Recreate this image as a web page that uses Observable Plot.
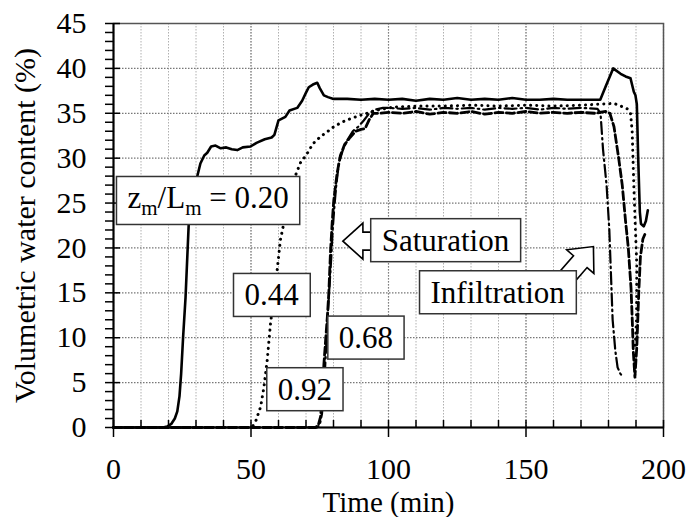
<!DOCTYPE html>
<html><head><meta charset="utf-8">
<script src="https://cdn.jsdelivr.net/npm/d3@7"></script>
<script src="https://cdn.jsdelivr.net/npm/@observablehq/plot@0.6"></script>
<style>html,body{margin:0;padding:0;background:#fff;} #chart{width:688px;height:517px;}</style>
</head><body><div id="chart"></div>
<script>
// ---- data ----
const xMajor = [0, 50, 100, 150, 200];
const yMajor = [0, 5, 10, 15, 20, 25, 30, 35, 40, 45];
const xMinor = d3.range(0, 201, 10);
const yMinor = d3.range(0, 46, 1);

// zm/Lm = 0.20 (solid)
const s020 = [[0,0],[18,0],[19.5,0.1],[21,0.4],[22.3,1],[23.2,1.8],[24,3.5],[24.6,6],[25.3,10],[26.2,14.5],[27.4,23],[28.5,26],[30.4,27.9],[31.6,29.4],[33,30.3],[34.1,30.6],[35.5,31.3],[37.1,31.4],[39,31.1],[41,31.2],[43,31.0],[45,30.9],[47,31.2],[49.8,31.3],[52,31.7],[55,32.1],[57.5,32.3],[58.5,32.6],[60,34.2],[62.5,34.6],[64,35.3],[66.8,35.6],[68.6,36.4],[70,37.3],[71,37.9],[72.5,38.2],[74.1,38.4],[75,37.8],[76.5,37],[78,36.8],[80,36.6],[85,36.6],[90,36.5],[95,36.6],[100,36.5],[105,36.6],[110,36.4],[115,36.6],[120,36.5],[125,36.7],[130,36.5],[135,36.6],[140,36.5],[145,36.7],[150,36.5],[155,36.5],[160,36.6],[165,36.5],[170,36.5],[177,36.5],[179,38],[181.7,40],[184.4,39.4],[186.2,39.1],[188,38.9],[189.2,37.4],[189.8,37],[190.3,36],[190.8,30],[191.4,24],[191.8,22.7],[192.8,22.4],[193.6,23],[194.3,24.2]];
// 0.44 (dotted)
const s044 = [[0,0],[50,0],[51,0.3],[51.6,0.6],[53.5,2.3],[54.7,4.5],[55.9,7.5],[57.1,11.6],[58.3,14.5],[59.5,17.5],[60.7,20.9],[61.9,22.7],[63.5,25],[65,27],[66.2,28.1],[68,29.5],[70.4,30.5],[72.5,31.6],[75.3,32.4],[78,33],[80.1,33.5],[83,34],[86.2,34.4],[89,34.7],[92.2,35],[95,35.3],[98.3,35.5],[102,35.7],[110,35.8],[120,35.8],[130,35.9],[140,35.8],[150,35.9],[160,35.8],[170,35.9],[176,36],[182,36.1],[184.5,35.8],[186.8,35.5],[188,35],[188.6,33],[189.2,27],[189.8,22],[190.3,18],[190.2,12],[189.6,8.5]];
// 0.68 (dashed)
const s068 = [[0,0],[73.5,0],[74.5,0.3],[75.3,1.2],[75.9,3.5],[76.5,7],[77.2,10],[77.8,12.5],[78.3,15],[78.9,19.5],[79.5,22.7],[80.1,25.3],[81.3,28.3],[82.5,30.3],[84,31.5],[86,32.3],[88,33],[90,33.2],[91.5,33.3],[93,34.3],[94.5,35],[97,35],[100,35.1],[105,35],[110,35.2],[115,34.9],[120,35.1],[125,35],[130,35.2],[135,34.9],[140,35.1],[145,35],[150,35.2],[155,35],[160,35.1],[165,35],[170,35.1],[175,35],[179,35.2],[180.5,35],[182,33.5],[183.7,30],[185,27],[186.2,23],[187.2,20],[188.2,15.5],[188.7,11.5],[189,8.6],[189.6,5.6],[190.3,9],[191,15],[191.6,19],[192.5,21],[193.2,21.5]];
// 0.92 (dash-dot)
const s092 = [[0,0],[74,0],[75,0.3],[75.8,1.5],[76.5,4],[77,7],[77.5,10],[78,13],[78.6,16],[79.2,19],[79.7,22],[80.3,24.5],[81,27],[82,29.5],[83.5,31],[85,32],[87,33],[89,33.5],[91,34.2],[93,35],[95,35.4],[98,35.6],[100,35.6],[105,35.5],[110,35.6],[115,35.4],[120,35.6],[125,35.5],[130,35.6],[135,35.4],[140,35.6],[145,35.5],[150,35.6],[155,35.4],[160,35.6],[165,35.5],[170,35.6],[176,35.5],[177.1,35],[178,31],[179.3,27],[180.3,22],[181.5,12],[182.5,8.5],[183.3,6.7],[184.3,6],[185.3,5.6]];

// annotation labels (anchor in data units)
const annoText = ["zm/Lm = 0.20", "0.44", "0.68", "0.92", "Saturation", "Infiltration"];
const annoX = [34.4, 57.5, 91.8, 69.6, 120.7, 139.7];
const annoY = [25.5, 14.7, 9.95, 4.2, 20.8, 15.0];
// block arrows (tip and tail in data units)
const arrowTipX = [83.6, 174.7];
const arrowTipY = [20.7, 20.1];
const arrowTailX = [94.5, 163.9];
const arrowTailY = [20.7, 16.3];

// ---- chart ----
const FONT = '"Liberation Serif","Times New Roman",Times,serif';
const NS = "http://www.w3.org/2000/svg";
const annos = annoText.map((t, i) => ({t, x: annoX[i], y: annoY[i]}));

function arrowsMark(index, scales) {
  const g = document.createElementNS(NS, "g");
  for (let i = 0; i < arrowTipX.length; i++) {
    const tx = scales.x(arrowTipX[i]), ty = scales.y(arrowTipY[i]);
    const sx = scales.x(arrowTailX[i]), sy = scales.y(arrowTailY[i]);
    const L = Math.hypot(tx - sx, ty - sy);
    const ux = (tx - sx) / L, uy = (ty - sy) / L, nx = -uy, ny = ux;
    const hl = 20, hw = 18, sw = 9;
    const bx = tx - hl * ux, by = ty - hl * uy;
    const pts = [
      [tx, ty], [bx + hw * nx, by + hw * ny], [bx + sw * nx, by + sw * ny],
      [sx + sw * nx, sy + sw * ny], [sx - sw * nx, sy - sw * ny],
      [bx - sw * nx, by - sw * ny], [bx - hw * nx, by - hw * ny]
    ];
    const p = document.createElementNS(NS, "polygon");
    p.setAttribute("points", pts.map(d => d.join(",")).join(" "));
    p.setAttribute("fill", "white");
    p.setAttribute("stroke", "black");
    p.setAttribute("stroke-width", "1.6");
    p.setAttribute("stroke-linejoin", "miter");
    g.appendChild(p);
  }
  return g;
}

const lineOpt = (extra) => Object.assign({x: d => d[0], y: d => d[1], stroke: "black", curve: "linear"}, extra);

const svg = Plot.plot({
  width: 688, height: 517,
  marginLeft: 113, marginRight: 25, marginTop: 23, marginBottom: 90,
  x: {domain: [0, 200]},
  y: {domain: [0, 45]},
  style: {fontFamily: FONT, fontSize: "30px", background: "white", color: "black"},
  marks: [
    Plot.gridX({ticks: xMinor, stroke: "#b0b0b0", strokeOpacity: 1, strokeDasharray: "1.5,1.5", strokeWidth: 1}),
    Plot.gridX({ticks: xMajor, stroke: "#808080", strokeOpacity: 1, strokeDasharray: "1.5,1.5", strokeWidth: 1.2}),
    Plot.gridY({ticks: yMajor, stroke: "#777", strokeOpacity: 1, strokeDasharray: "1.5,1.5", strokeWidth: 1.2}),
    Plot.frame({stroke: "#555", strokeWidth: 1.5}),
    Plot.line(s020, lineOpt({strokeWidth: 2.6})),
    Plot.line(s044, lineOpt({strokeWidth: 3, strokeDasharray: "0.1,6", strokeLinecap: "round"})),
    Plot.line(s068, lineOpt({strokeWidth: 2.8, strokeDasharray: "8,3.5"})),
    Plot.line(s092, lineOpt({strokeWidth: 2.2, strokeDasharray: "12,4,1.5,4"})),
    Plot.ruleX([0], {stroke: "black", strokeWidth: 2}),
    Plot.ruleY([0], {stroke: "black", strokeWidth: 2}),
    // ticks
    Plot.axisY({ticks: yMinor, tickSize: 8, fill: "none", label: null, strokeWidth: 1.5}),
    Plot.axisY({ticks: yMajor, tickSize: 7, dx: 7, fill: "none", label: null, strokeWidth: 1.5}),
    Plot.axisX({ticks: xMinor, tickSize: 7, dy: -7, fill: "none", label: null, strokeWidth: 1.5}),
    Plot.axisX({ticks: xMajor, tickSize: 10, fill: "none", label: null, strokeWidth: 1.5}),
    // tick labels
    Plot.axisY({ticks: yMajor, tickSize: 0, tickPadding: 27, label: null, fontSize: 30}),
    Plot.axisX({ticks: xMajor, tickSize: 0, tickPadding: 30, label: null, fontSize: 30}),
    Plot.text(["Time (min)"], {frameAnchor: "bottom", dy: 75, lineAnchor: "middle", fontSize: 29}),
    Plot.text(["Volumetric water content (%)"], {frameAnchor: "left", dx: -88, rotate: -90, textAnchor: "middle", lineAnchor: "middle", fontSize: 30}),
    // annotations
    arrowsMark,
    Plot.text(annos, {x: "x", y: "y", text: "t", fontSize: 31, lineAnchor: "middle"})
  ]
});
document.getElementById("chart").appendChild(svg);

const annoNodes = Array.from(svg.querySelectorAll("text")).filter(t => annoText.includes(t.textContent));
// subscripts for zm/Lm
annoNodes.forEach(t => {
  if (t.textContent === "zm/Lm = 0.20") {
    while (t.firstChild) t.removeChild(t.firstChild);
    const parts = [["z", 0], ["m", 1], ["/L", -1], ["m", 1], [" = 0.20", -1]];
    for (const [s, sub] of parts) {
      const ts = document.createElementNS(NS, "tspan");
      ts.textContent = s;
      if (sub === 1) { ts.setAttribute("dy", "7"); ts.setAttribute("font-size", "21"); }
      if (sub === -1) { ts.setAttribute("dy", "-7"); }
      t.appendChild(ts);
    }
  }
});
// boxes behind annotation labels
annoNodes.forEach(t => {
  const b = t.getBBox();
  const r = document.createElementNS(NS, "rect");
  const px = 11, py = 4;
  r.setAttribute("x", b.x - px);
  r.setAttribute("y", b.y - py);
  r.setAttribute("width", b.width + 2 * px);
  r.setAttribute("height", b.height + 2 * py);
  r.setAttribute("fill", "white");
  r.setAttribute("stroke", "#333");
  r.setAttribute("stroke-width", "1.5");
  if (t.getAttribute("transform")) r.setAttribute("transform", t.getAttribute("transform"));
  t.parentNode.insertBefore(r, t);
});
</script></body></html>
